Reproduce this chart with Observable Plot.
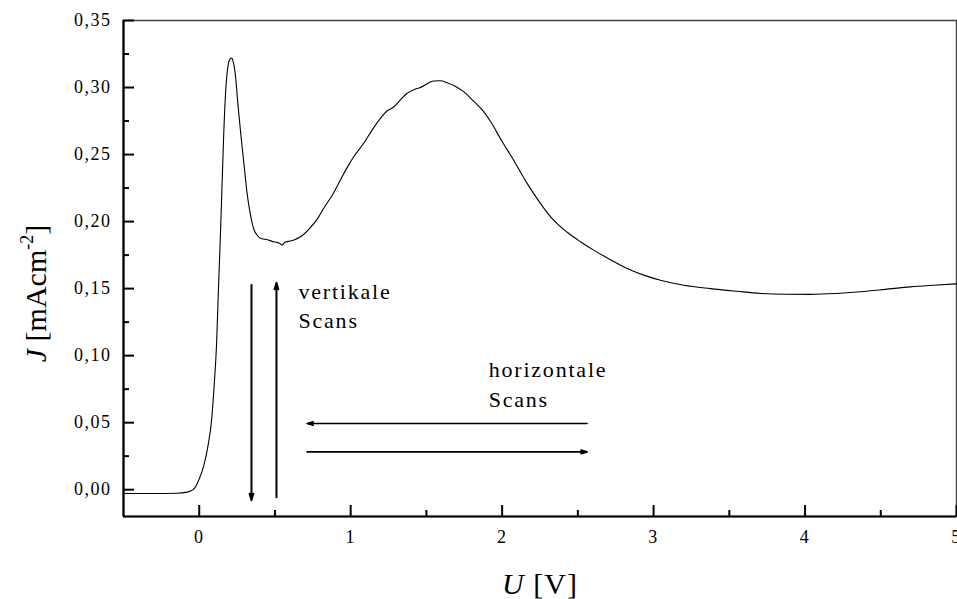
<!DOCTYPE html>
<html><head><meta charset="utf-8">
<script src="https://cdn.jsdelivr.net/npm/d3@7"></script>
<script src="https://cdn.jsdelivr.net/npm/@observablehq/plot@0.6"></script>
<style>
body{margin:0;background:#fff;}
#chart svg, #chart svg text{font-family:"Liberation Serif","Times New Roman",serif !important;}
g[aria-label="y-axis tick label"] text, g[aria-label="x-axis tick label"] text{letter-spacing:1.5px;}
</style></head><body><div id="chart"></div>
<script>
// Potential U [V]
const U = [-0.5,-0.3,-0.15,-0.08,-0.04,0.0,0.03,0.06,0.08,0.10,0.115,0.127,0.14,0.15,0.162,0.175,0.19,0.205,0.213,0.225,0.24,0.255,0.272,0.283,0.30,0.316,0.335,0.349,0.365,0.382,0.404,0.449,0.49,0.514,0.535,0.548,0.565,0.60,0.63,0.668,0.70,0.734,0.78,0.822,0.88,0.932,0.98,1.02,1.086,1.14,1.196,1.24,1.284,1.33,1.373,1.42,1.46,1.50,1.548,1.59,1.637,1.69,1.746,1.81,1.878,1.93,1.988,2.08,2.165,2.25,2.34,2.43,2.517,2.604,2.70,2.825,2.95,3.045,3.2,3.375,3.55,3.705,3.87,4.035,4.2,4.365,4.53,4.695,4.85,5.0];
// Current density J [mA cm^-2]
const J = [-0.0028,-0.0028,-0.0026,-0.0018,0.0,0.008,0.018,0.034,0.05,0.08,0.11,0.15,0.19,0.225,0.266,0.298,0.316,0.3215,0.322,0.319,0.308,0.288,0.268,0.256,0.238,0.221,0.207,0.199,0.193,0.19,0.1875,0.1865,0.185,0.1845,0.1835,0.1825,0.1845,0.1855,0.1865,0.1887,0.1915,0.1955,0.202,0.21,0.22,0.231,0.241,0.2484,0.2584,0.268,0.277,0.2825,0.2855,0.291,0.2957,0.2985,0.3,0.3025,0.3049,0.305,0.3036,0.301,0.2969,0.29,0.282,0.2735,0.262,0.245,0.2285,0.214,0.201,0.192,0.185,0.1787,0.1725,0.165,0.1595,0.1563,0.1525,0.15,0.148,0.1464,0.1458,0.1457,0.1463,0.1476,0.1494,0.1513,0.1525,0.1535];

const yTicks = [0,0.05,0.10,0.15,0.20,0.25,0.30,0.35];
const yMinor = [0.025,0.075,0.125,0.175,0.225,0.275,0.325];
const xTicks = [0,1,2,3,4,5];
const xMinor = [0.5,1.5,2.5,3.5,4.5];

// vertical scan arrows
const vX1 = [0.345,0.510], vY1 = [0.1526,-0.0056], vX2 = [0.345,0.510], vY2 = [-0.0078,0.1543];
// horizontal scan arrows
const hX1 = [2.561,0.712], hY1 = [0.0494,0.0282], hX2 = [0.712,2.561], hY2 = [0.0494,0.0282];

const noteText = ["vertikale","Scans","horizontale","Scans"];
const noteX = [0.655,0.655,1.911,1.911];
const noteY = [0.1474,0.1257,0.0894,0.0670];

const data = U.map((u,i)=>({u, j:J[i]}));
const idx2 = [0,1];
const idx4 = [0,1,2,3];
const W = 957, H = 599, mL = 123, mR = 1, mT = 20, mB = 83;
const fw = W - mL - mR, fh = H - mT - mB;
const FF = "Liberation Serif, Times New Roman, serif";

const fmt = d => d.toFixed(2).replace(".", ",");

const chart = Plot.plot({
  width: W, height: H,
  marginLeft: mL, marginRight: mR, marginTop: mT, marginBottom: mB,
  x: {domain: [-0.5, 5]},
  y: {domain: [-0.02, 0.35]},
  style: {background: "white", overflow: "visible", fontFamily: FF},
  marks: [
    Plot.frame({stroke: "#444", strokeWidth: 1.5}),
    Plot.ruleX([-0.5], {stroke: "black", strokeWidth: 2.2}),
    Plot.ruleY([-0.02], {stroke: "black", strokeWidth: 2.2}),
    Plot.tickY(yTicks, {y: d => d, insetRight: fw - 11, strokeWidth: 2, stroke: "black"}),
    Plot.tickY(yMinor, {y: d => d, insetRight: fw - 6, strokeWidth: 2, stroke: "black"}),
    Plot.tickX(xTicks, {x: d => d, insetTop: fh - 11, strokeWidth: 2, stroke: "black"}),
    Plot.tickX(xMinor, {x: d => d, insetTop: fh - 6, strokeWidth: 2, stroke: "black"}),
    Plot.axisY({ticks: yTicks, tickSize: 0, tickPadding: 12, tickFormat: fmt, fontSize: 18, fontFamily: FF, label: null, fill: "black"}),
    Plot.axisX({ticks: xTicks, tickSize: 0, tickPadding: 14, tickFormat: d => String(d), fontSize: 18, fontFamily: FF, label: null, fill: "black"}),
    Plot.line(data, {x: "u", y: "j", curve: "monotone-x", stroke: "black", strokeWidth: 1.1}),
    Plot.arrow(idx2, {x1: i => vX1[i], y1: i => vY1[i], x2: i => vX2[i], y2: i => vY2[i], stroke: "black", strokeWidth: 2, headLength: 5, headAngle: 32}),
    Plot.arrow(idx2, {x1: i => hX1[i], y1: i => hY1[i], x2: i => hX2[i], y2: i => hY2[i], stroke: "black", strokeWidth: 1.6, headLength: 6, headAngle: 32}),
    Plot.text(idx4, {x: i => noteX[i], y: i => noteY[i], text: i => noteText[i], textAnchor: "start", fontSize: 22, fontFamily: FF, fill: "black", lineAnchor: "middle"}),
    Plot.text(["U [V]"], {frameAnchor: "bottom", textAnchor: "middle", lineAnchor: "middle", dy: 67.4, fontSize: 30, fontFamily: FF, fill: "black"}),
    Plot.text(["J [mAcm-2]"], {frameAnchor: "left", textAnchor: "middle", lineAnchor: "middle", rotate: -90, dx: -87.6, dy: 25, fontSize: 30, fontFamily: FF, fill: "black"})
  ]
});

const svg = d3.select(chart.tagName.toLowerCase() === "svg" ? chart : chart.querySelector("svg"));
svg.selectAll("text").each(function() {
  const t = this.textContent;
  const s = d3.select(this);
  if (t === "vertikale" || t === "Scans" || t === "horizontale") {
    s.style("letter-spacing", "1.8px");
  } else if (t === "U [V]") {
    s.text(null).style("letter-spacing", "1px");
    s.append("tspan").attr("font-style", "italic").text("U");
    s.append("tspan").text(" [V]");
  } else if (t === "J [mAcm-2]") {
    s.text(null);
    s.append("tspan").attr("font-style", "italic").text("J");
    s.append("tspan").text(" [mAcm");
    s.append("tspan").attr("font-size", "18px").attr("dy", "-13").text("-2");
    s.append("tspan").attr("dy", "13").text("]");
  }
});
document.getElementById("chart").appendChild(chart);
</script></body></html>
